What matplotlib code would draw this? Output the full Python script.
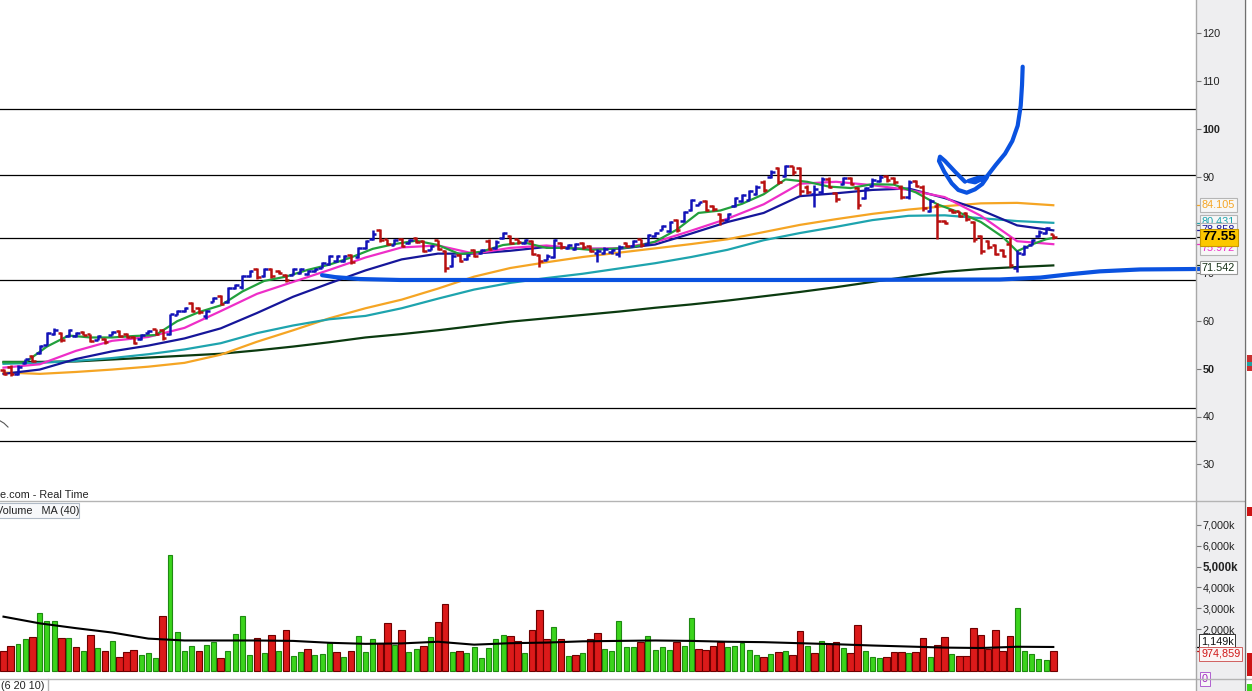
import numpy as np
import matplotlib
matplotlib.use("Agg")
import matplotlib.pyplot as plt
from matplotlib.collections import LineCollection
from matplotlib.patches import Rectangle
from matplotlib.lines import Line2D

plt.rcParams['font.family'] = ['Liberation Sans', 'DejaVu Sans']

# ---------------- data ----------------
opens = [49.8, 50.3, 48.9, 51.2, 52.6, 53.3, 55.0, 57.2, 57.5, 56.8,
         56.8, 57.7, 57.2, 56.0, 56.2, 57.0, 57.9, 57.2, 56.6, 56.1,
         57.4, 58.2, 58.0, 57.3, 61.2, 62.0, 63.6, 62.7, 61.0, 64.0,
         65.1, 63.8, 66.8, 67.0, 69.3, 70.8, 69.3, 70.8, 70.4, 69.6,
         69.6, 69.9, 69.7, 70.3, 71.0, 71.8, 72.5, 72.4, 73.8, 73.2,
         75.1, 77.0, 79.0, 77.0, 75.9, 77.1, 76.3, 77.3, 76.6, 74.8,
         76.8, 74.5, 71.5, 73.8, 72.8, 74.8, 74.1, 76.7, 75.2, 77.3,
         77.7, 77.0, 76.3, 76.6, 73.8, 72.7, 73.2, 76.2, 75.2, 75.0,
         76.2, 75.5, 74.2, 74.2, 74.3, 74.0, 76.2, 75.5, 77.0, 76.0,
         77.6, 79.0, 78.7, 81.0, 80.8, 83.2, 84.2, 84.9, 83.9, 82.2,
         81.0, 83.9, 85.0, 85.3, 86.4, 89.0, 89.9, 91.9, 90.2, 92.2,
         91.9, 88.0, 86.5, 86.8, 89.5, 86.7, 88.5, 89.8, 87.7, 85.7,
         88.1, 89.2, 90.2, 89.8, 88.0, 85.8, 89.1, 88.0, 83.0, 84.0,
         80.9, 83.2, 82.9, 82.5, 80.7, 77.6, 76.6, 75.9, 74.8, 76.0,
         71.0, 73.9, 75.9, 77.7, 78.4, 78.1]
highs = [50.0, 50.7, 50.7, 52.1, 52.8, 54.9, 57.6, 58.5, 57.6, 58.3,
         57.6, 57.8, 57.3, 57.0, 56.3, 57.8, 58.0, 57.5, 56.8, 57.3,
         58.0, 58.3, 58.3, 61.5, 62.2, 62.9, 63.8, 62.9, 62.2, 65.0,
         65.3, 67.0, 67.7, 69.5, 70.5, 71.0, 71.0, 71.0, 70.5, 69.8,
         70.9, 71.0, 70.5, 70.9, 72.3, 73.7, 73.7, 73.7, 74.0, 75.4,
         76.8, 78.9, 79.2, 77.1, 77.1, 77.3, 77.1, 77.5, 76.8, 75.7,
         76.9, 74.7, 74.0, 74.0, 74.0, 75.0, 75.0, 77.1, 76.8, 78.5,
         77.8, 77.1, 77.1, 76.8, 74.0, 74.0, 77.1, 76.4, 76.1, 76.2,
         76.4, 75.7, 75.0, 75.4, 75.0, 75.7, 76.4, 76.8, 77.1, 78.2,
         78.5, 79.9, 80.9, 81.3, 83.0, 85.5, 84.8, 85.1, 84.1, 82.4,
         82.4, 85.8, 86.5, 87.2, 88.3, 89.3, 91.4, 92.1, 92.6, 92.4,
         92.1, 88.3, 88.3, 90.0, 90.0, 86.9, 90.0, 90.0, 87.9, 87.9,
         89.7, 90.4, 90.4, 90.0, 88.3, 89.3, 89.3, 88.3, 85.5, 84.5,
         81.0, 83.4, 83.0, 82.7, 80.9, 77.8, 76.8, 76.1, 75.0, 77.5,
         74.7, 75.7, 77.1, 78.9, 79.6, 78.2]
lows = [48.6, 48.5, 48.6, 51.0, 51.4, 53.1, 54.9, 57.0, 55.6, 56.6,
        56.6, 57.0, 55.6, 55.9, 55.2, 57.0, 56.6, 56.3, 55.2, 55.9,
        57.3, 57.0, 55.9, 57.0, 61.1, 61.8, 61.8, 61.5, 60.4, 63.9,
        63.2, 63.6, 66.7, 66.7, 69.1, 68.8, 69.1, 68.9, 69.8, 68.1,
        69.5, 69.8, 69.5, 70.2, 70.9, 71.6, 72.3, 72.3, 71.9, 73.0,
        75.0, 76.8, 76.4, 75.7, 75.7, 75.4, 76.1, 76.2, 74.3, 74.7,
        74.7, 70.2, 71.2, 72.3, 72.6, 73.3, 74.0, 74.7, 75.0, 77.1,
        76.1, 76.1, 76.1, 73.7, 71.2, 72.6, 73.0, 75.0, 75.0, 74.8,
        75.0, 74.3, 72.3, 74.0, 74.0, 73.3, 75.4, 75.4, 75.4, 75.7,
        77.5, 78.9, 78.5, 78.5, 80.6, 83.0, 84.1, 83.0, 83.0, 79.9,
        81.0, 83.7, 84.8, 85.1, 86.2, 86.9, 89.7, 88.6, 90.0, 90.5,
        86.2, 86.5, 83.7, 86.5, 87.6, 84.8, 88.3, 88.3, 83.4, 85.5,
        87.9, 89.0, 89.0, 88.6, 85.5, 85.5, 87.9, 83.0, 82.7, 77.0,
        80.2, 82.4, 81.7, 80.9, 76.4, 74.0, 75.0, 73.7, 73.3, 71.2,
        70.2, 73.7, 75.7, 77.5, 78.2, 77.1]
closes = [48.9, 48.8, 50.3, 51.9, 51.6, 54.7, 57.4, 58.0, 55.9, 58.1,
          57.4, 57.1, 55.8, 56.8, 55.5, 57.6, 56.8, 56.5, 55.4, 57.1,
          57.9, 57.2, 56.3, 61.3, 62.0, 62.7, 62.0, 61.8, 62.0, 64.8,
          63.5, 66.8, 67.5, 69.3, 70.3, 69.2, 70.8, 69.3, 69.9, 68.5,
          70.7, 70.8, 70.3, 70.7, 72.1, 73.5, 73.5, 73.5, 72.2, 75.2,
          76.6, 78.0, 76.8, 76.0, 76.9, 75.6, 76.9, 76.4, 74.6, 75.5,
          75.0, 71.0, 73.6, 72.5, 73.8, 73.5, 74.8, 75.0, 76.5, 78.3,
          76.3, 76.4, 76.9, 74.0, 72.5, 73.5, 76.8, 75.3, 75.9, 76.0,
          75.3, 74.6, 74.6, 75.0, 74.8, 75.4, 75.6, 76.6, 75.7, 77.9,
          78.3, 79.7, 80.6, 78.9, 82.7, 85.2, 84.7, 83.2, 83.3, 81.0,
          82.2, 85.6, 86.2, 87.0, 88.0, 87.3, 91.1, 89.0, 92.4, 91.0,
          87.0, 86.8, 87.5, 89.6, 88.0, 85.5, 89.7, 88.6, 84.2, 87.6,
          89.3, 90.0, 89.3, 88.9, 85.8, 89.0, 88.2, 83.5, 85.0, 80.9,
          80.3, 82.6, 81.9, 81.2, 77.0, 74.5, 75.3, 74.0, 73.6, 71.7,
          74.2, 75.4, 76.8, 78.6, 79.3, 77.55]

volumes_m = [0.98, 1.2, 1.3, 1.54, 1.63, 2.78, 2.4, 2.4, 1.58, 1.58,
             1.15, 0.96, 1.73, 1.11, 0.96, 1.44, 0.68, 0.9, 1.01, 0.78,
             0.87, 0.63, 2.64, 5.56, 1.87, 0.96, 1.2, 0.96, 1.25, 1.39,
             0.63, 0.96, 1.78, 2.64, 0.78, 1.58, 0.87, 1.73, 0.96, 1.97,
             0.73, 0.92, 1.06, 0.78, 0.82, 1.35, 0.92, 0.68, 0.96, 1.68,
             0.92, 1.54, 1.35, 2.3, 1.25, 1.97, 0.92, 1.06, 1.2, 1.63,
             2.35, 3.21, 0.92, 0.96, 0.87, 1.15, 0.63, 1.11, 1.54, 1.73,
             1.68, 1.44,
             0.87, 1.97, 2.9, 1.54, 2.12, 1.54, 0.73, 0.77, 0.87, 1.54,
             1.82, 1.06, 0.96, 2.4, 1.16, 1.16, 1.4, 1.68, 1.01, 1.16,
             1.01, 1.4, 1.2, 2.54, 1.06, 1.01, 1.2, 1.4, 1.16, 1.2,
             1.35, 1.01, 0.77, 0.68, 0.82, 0.92, 0.96, 0.77, 1.92, 1.2,
             0.87, 1.44, 1.3, 1.4, 1.11, 0.87, 2.21, 0.96, 0.68, 0.63,
             0.68, 0.92, 0.92, 0.87, 0.92, 1.58, 0.68, 1.25, 1.63, 0.82,
             0.73, 0.73, 2.06, 1.73, 1.06, 1.97, 0.96, 1.68, 3.0, 0.96,
             0.82, 0.58, 0.54, 0.975]
vol_dir = list("rrggrgggrgrgrgrgrrrgggrggggrggrggggrgrgrggrgggrgrgggrrgrggrgrrgrggggggrr"
               "grrrgrgrgrrgggggrgggg" "rggrrrrgggggrgrgrrgrgrrgrrgggrrr" "grrgrrgrrrrrrrrgggggr")

ma_idx = list(range(0, 146, 5))
ma_dkgreen = [51.4, 51.4, 51.5, 51.9, 52.3, 52.7, 53.1, 53.8, 54.6, 55.5,
              56.5, 57.2, 58.0, 58.9, 59.8, 60.5, 61.2, 61.9, 62.7, 63.4,
              64.2, 65.1, 66.0, 67.0, 68.1, 69.2, 70.2, 70.8, 71.2, 71.542]
ma_orange = [49.2, 48.9, 49.3, 49.8, 50.4, 51.2, 52.9, 55.6, 58.0, 60.5,
             62.6, 64.4, 66.7, 69.2, 71.0, 72.2, 73.3, 74.2, 75.1, 76.0,
             77.0, 78.5, 80.0, 81.2, 82.3, 83.2, 83.9, 84.5, 84.6, 84.105]
ma_teal = [51.0, 51.2, 51.6, 52.2, 53.0, 54.0, 55.3, 57.4, 59.0, 60.3,
           61.0, 62.6, 64.6, 66.5, 67.9, 68.9, 69.8, 70.9, 72.0, 73.3,
           74.8, 76.8, 78.3, 79.6, 81.0, 81.9, 82.0, 81.4, 80.8, 80.431]
ma_blue = [48.9, 49.8, 52.0, 53.6, 54.8, 56.3, 58.4, 61.6, 65.0, 67.8,
           70.5, 72.8, 74.0, 74.0, 74.6, 75.4, 75.0, 75.0, 75.9, 78.2,
           80.6, 82.5, 86.0, 86.6, 87.3, 87.6, 85.6, 83.1, 79.9, 78.858]
ma_magenta = [50.2, 50.9, 53.7, 55.8, 56.6, 58.5, 62.0, 65.6, 68.1, 70.6,
              73.2, 75.3, 75.7, 74.0, 75.2, 75.7, 75.0, 75.1, 76.4, 78.8,
              81.3, 84.3, 88.6, 89.0, 88.3, 87.3, 85.8, 81.9, 76.6, 75.972]
green_idx = list(range(0, 139, 3)) + [140, 142, 144, 145]
ma_green = [51.3, 51.3, 54.6, 56.9, 56.5, 56.5, 56.8, 57.0, 59.9, 61.8,
            63.2, 66.1, 68.3, 69.2, 70.6, 71.7, 73.2, 75.0, 76.0, 76.7,
            75.8, 73.9, 74.4, 75.8, 76.3, 75.2, 75.2, 74.8, 75.0, 75.4,
            76.5, 79.0, 82.5, 83.0, 84.4, 86.4, 89.5, 89.0, 88.0, 87.7,
            88.5, 88.4, 86.8, 84.3, 82.6, 80.6, 77.5, 74.5, 75.9, 77.0, 77.3]
vol_ma = [2.6, 2.28, 2.05, 1.84, 1.55, 1.46, 1.46, 1.46, 1.44, 1.35,
          1.30, 1.32, 1.40, 1.26, 1.33, 1.36, 1.42, 1.44, 1.46, 1.44,
          1.40, 1.38, 1.33, 1.28, 1.22, 1.17, 1.12, 1.10, 1.16, 1.149]

h_levels = [104.3, 90.4, 77.2, 68.4, 41.7, 34.8]
price_ticks = [30, 40, 50, 60, 70, 80, 90, 100, 110, 120]
vol_ticks = [2, 3, 4, 5, 6, 7]

# hand-drawn annotations (bar index, price)
pen_flat_x = [44.0, 45.8, 49.2, 54.8, 82.4, 110.0, 137.6, 143.2, 147.3, 151.4, 157.0, 165.3]
pen_flat_y = [69.5, 69.1, 68.7, 68.5, 68.5, 68.5, 68.6, 69.0, 69.7, 70.3, 70.7, 70.8]
pen_tick_x = [132.80, 131.42, 130.04, 129.35, 129.21, 129.94, 130.97, 131.88, 133.04, 134.19,
              135.19, 135.80, 134.64, 133.26, 134.19, 135.80, 137.04, 138.33, 139.34, 140.08,
              140.50, 140.68, 140.77]
pen_tick_y = [89.02, 91.11, 93.34, 94.24, 93.34, 91.11, 88.68, 87.29, 86.72, 87.43,
              88.54, 89.85, 89.85, 89.16, 88.89, 90.06, 92.50, 94.86, 97.52, 100.71,
              104.89, 109.21, 113.03]
stray_x = [-0.48, 0.07, 0.62]
stray_y = [39.1, 38.6, 37.8]

# ---------------- layout ----------------
W, H = 1252, 691
X0, DX = 3.5, 7.24
PX_PER_PT = 4.79; Y120 = 33.3
VZERO, VPX = 671.0, 20.9

def fx(px):
    return px / W

def fy(py):
    return 1 - py / H

BLUE = '#1212b8'; RED = '#b81010'
C_GREEN = '#22a03c'; C_MAG = '#ee2ec8'; C_DBLUE = '#16169a'
C_ORANGE = '#f5a524'; C_TEAL = '#1ea4ae'; C_DKG = '#0b3b10'
PEN = '#0a52e0'

fig = plt.figure(figsize=(W / 100, H / 100), dpi=100)
fig.patch.set_facecolor('white')
fig.add_artist(Rectangle((fx(1196), 0), fx(1244) - fx(1196), 1, transform=fig.transFigure,
                         fc='#eeeef0', ec='none', zorder=-5))
# fragments of the neighbouring chart at the far right edge
for (x1, y1, x2, y2, c) in [(1247, 355, 1252, 371, '#c83030'), (1247, 362, 1252, 366, '#20a0a0'),
                            (1247, 507, 1252, 516, '#cc1414'), (1247, 653, 1252, 676, '#cc1414'),
                            (1247, 684, 1252, 691, '#3bd41c')]:
    fig.add_artist(Rectangle((fx(x1), fy(y2)), fx(x2) - fx(x1), fy(y1) - fy(y2),
                             transform=fig.transFigure, fc=c, ec='none', zorder=-4))

xlim = (-X0 / DX, (1196 - X0) / DX)

# ---- price panel ----
ax = fig.add_axes([0, fy(501), fx(1196), 501 / H])
ax.set_facecolor('white')
ax.set_xlim(*xlim)
ax.set_ylim(120 - (501 - Y120) / PX_PER_PT, 120 + Y120 / PX_PER_PT)
for s in ax.spines.values():
    s.set_visible(False)
ax.set_xticks([])
ax.yaxis.tick_right()
ax.set_yticks(price_ticks)
ax.set_yticklabels([str(t) for t in price_ticks])
ax.tick_params(axis='y', direction='out', length=3.5, width=0.8, color='#777777',
               pad=1.2, labelsize=7.8, labelcolor='#222222')
for lab in ax.get_yticklabels():
    if lab.get_text() in ('100', '50'):
        lab.set_fontweight('bold')

for lv in h_levels:
    ax.axhline(lv, color='black', lw=0.9, zorder=1)

ax.plot(stray_x, stray_y, color='#555555', lw=0.8, zorder=1)

ax.plot(ma_idx, ma_dkgreen, color=C_DKG, lw=1.6, zorder=2)
ax.plot(ma_idx, ma_orange, color=C_ORANGE, lw=1.6, zorder=2)
ax.plot(ma_idx, ma_teal, color=C_TEAL, lw=1.6, zorder=2)
ax.plot(ma_idx, ma_blue, color=C_DBLUE, lw=1.6, zorder=2)
ax.plot(ma_idx, ma_magenta, color=C_MAG, lw=1.6, zorder=2)
ax.plot(green_idx, ma_green, color=C_GREEN, lw=1.6, zorder=2)

TICK = 0.5
segs, cols = [], []
for i in range(len(closes)):
    c = BLUE if closes[i] >= opens[i] else RED
    segs.append([(i, lows[i]), (i, highs[i])])
    segs.append([(i - TICK, opens[i]), (i, opens[i])])
    segs.append([(i, closes[i]), (i + TICK, closes[i])])
    cols += [c, c, c]
ax.add_collection(LineCollection(segs, colors=cols, linewidths=1.8, capstyle='butt', zorder=5))

ax.plot(pen_flat_x, pen_flat_y, color=PEN, lw=3.0, solid_capstyle='round',
        solid_joinstyle='round', zorder=6, clip_on=False)
ax.plot(pen_tick_x, pen_tick_y, color=PEN, lw=3.0, solid_capstyle='round',
        solid_joinstyle='round', zorder=6)

yt = ax.get_yaxis_transform()
def vbox(val, txt, shown, color, fc, ec, z, size=7.6, weight='normal'):
    ax.plot([1.0, 1.0042], [val, val], transform=yt, color=color, lw=0.9, clip_on=False, zorder=z)
    ax.text(1.0050, shown, txt, transform=yt, va='center', ha='left', fontsize=size,
            color=color if weight == 'normal' else 'black', fontweight=weight, clip_on=False,
            zorder=z, bbox=dict(boxstyle='square,pad=0.18', fc=fc, ec=ec, lw=0.8))

vbox(84.105, '84.105', 84.105, C_ORANGE, '#f7f7f7', '#b5b5b5', 10, size=7.8)
vbox(80.431, '80.431', 80.6, C_TEAL, '#f7f7f7', '#b5b5b5', 11, size=7.8)
vbox(78.858, '78.858', 78.9, C_DBLUE, '#f7f7f7', '#b5b5b5', 12, size=7.8)
vbox(75.972, '75.972', 75.25, C_MAG, '#f7f7f7', '#b5b5b5', 13, size=7.8)
vbox(77.55, '77.55', 77.45, '#111111', '#fcc800', '#c89a00', 14, size=9.6, weight='bold')
vbox(71.542, '71.542', 71.1, '#163016', '#ffffff', '#999999', 15, size=7.8)

# ---- volume panel ----
axv = fig.add_axes([0, fy(678), fx(1196), (678 - 502) / H])
axv.set_facecolor('white')
axv.set_xlim(*xlim)
axv.set_ylim((VZERO - 678) / VPX, (VZERO - 502) / VPX)
for s in axv.spines.values():
    s.set_visible(False)
axv.set_xticks([])
axv.yaxis.tick_right()
axv.set_yticks(vol_ticks)
axv.set_yticklabels([f'{t},000k' for t in vol_ticks])
axv.tick_params(axis='y', direction='out', length=3.5, width=0.8, color='#777777',
                pad=1.2, labelsize=7.8, labelcolor='#222222')
for lab in axv.get_yticklabels():
    if lab.get_text() == '5,000k':
        lab.set_fontweight('bold')
        lab.set_fontsize(8.3)

vidx = np.arange(len(volumes_m))
fills = ['#3bd41c' if d == 'g' else '#dc1a1a' for d in vol_dir]
edges = ['#1f8a12' if d == 'g' else '#6e0000' for d in vol_dir]
widths = [0.68 if d == 'g' else 0.92 for d in vol_dir]
axv.bar(vidx, volumes_m, width=widths, color=fills, edgecolor=edges, linewidth=0.8, zorder=3)
axv.plot(ma_idx, vol_ma, color='black', lw=1.5, zorder=4)

yv = axv.get_yaxis_transform()
axv.text(1.0042, (VZERO - 641) / VPX, '1,149k', transform=yv, va='center', ha='left', fontsize=7.8,
         color='#111111', clip_on=False, zorder=10,
         bbox=dict(boxstyle='square,pad=0.15', fc='white', ec='#333333', lw=0.7))
axv.text(1.0042, (VZERO - 654) / VPX, '974,859', transform=yv, va='center', ha='left', fontsize=7.8,
         color='#d01818', clip_on=False, zorder=11,
         bbox=dict(boxstyle='square,pad=0.15', fc='#fbf4f4', ec='#d06060', lw=0.7))
axv.plot([1.0, 1.0035], [volumes_m[-1], volumes_m[-1]], transform=yv, color='#c01010', lw=0.9, clip_on=False)
axv.plot([1.0, 1.0035], [vol_ma[-1], vol_ma[-1]], transform=yv, color='black', lw=0.9, clip_on=False)

fig.text(fx(1202), fy(679), '0', va='center', ha='left', fontsize=7.8, color='#a020c0', zorder=10,
         bbox=dict(boxstyle='square,pad=0.15', fc='#f7f7f7', ec='#b060d0', lw=0.7))

# ---- frame lines, captions ----
for (x1, y1, x2, y2, c, lw) in [
        (0, 501, 1244, 501, '#b4b4b4', 1.0),
        (0, 678.5, 1252, 678.5, '#b4b4b4', 1.0),
        (1196, 0, 1196, 691, '#a8a8a8', 1.0),
        (1244.5, 0, 1244.5, 691, '#707070', 1.0),
        (47.5, 678.5, 47.5, 691, '#b4b4b4', 1.0)]:
    fig.add_artist(Line2D([fx(x1), fx(x2)], [fy(y1), fy(y2)], transform=fig.transFigure,
                          color=c, lw=lw, zorder=20))

fig.text(fx(0), fy(494.5), 'e.com - Real Time', va='center', ha='left', fontsize=7.8, color='#222222')
fig.add_artist(Rectangle((fx(-2), fy(518)), fx(81), fy(503) - fy(518), transform=fig.transFigure,
                         fc='#f7f8fa', ec='#b0bac6', lw=0.8, zorder=15))
fig.text(fx(-3.5), fy(510.5), 'Volume   MA (40)', va='center', ha='left', fontsize=7.8,
         color='#222222', zorder=16)
fig.text(fx(1), fy(686), '(6 20 10)', va='center', ha='left', fontsize=7.8, color='#222222')

fig.savefig('out.png', dpi=100, facecolor='white')
